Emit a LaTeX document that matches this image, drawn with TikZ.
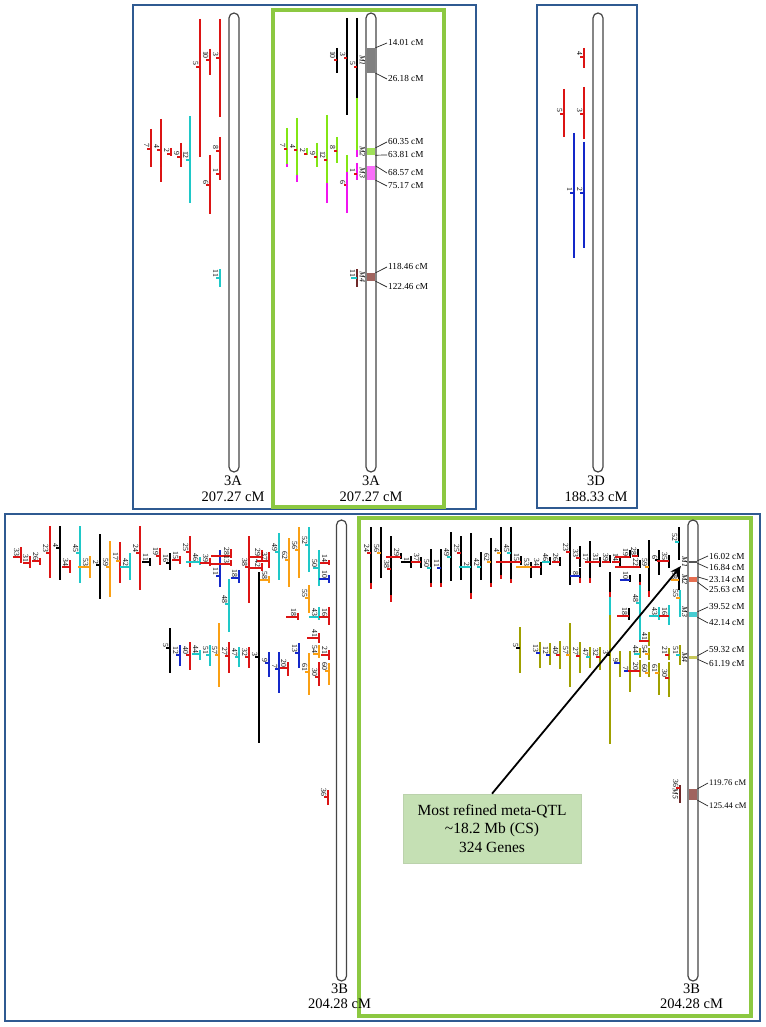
\documentclass[tikz,border=0pt]{standalone}
\usepackage{fontspec}
\setmainfont{Liberation Serif}
\usetikzlibrary{arrows.meta}
\definecolor{qred}{RGB}{220,20,20}
\definecolor{qcyan}{RGB}{30,200,200}
\definecolor{qblue}{RGB}{20,40,200}
\definecolor{qorange}{RGB}{250,160,20}
\definecolor{qgreen}{RGB}{130,230,20}
\definecolor{qmag}{RGB}{240,20,240}
\definecolor{qolive}{RGB}{160,160,0}
\definecolor{qbrown}{RGB}{110,40,40}
\definecolor{frameblue}{RGB}{47,90,145}
\definecolor{framegreen}{RGB}{140,200,65}
\definecolor{callfill}{RGB}{197,224,180}
\definecolor{boxgray}{RGB}{128,128,128}
\definecolor{boxdark}{RGB}{85,85,85}
\definecolor{boxgreen}{RGB}{160,225,90}
\definecolor{boxmag}{RGB}{250,110,250}
\definecolor{boxbrown}{RGB}{160,100,95}
\definecolor{boxsalmon}{RGB}{230,110,80}
\definecolor{boxcyan}{RGB}{70,205,210}
\definecolor{boxolive}{RGB}{200,200,90}
\definecolor{chromline}{RGB}{70,70,70}
\tikzset{
  qbar/.style={line width=1.9pt},
  qtick/.style={line width=1.2pt},
  qlab/.style={font=\fontsize{7.8}{7.8}\selectfont, inner sep=0.3pt, rotate=-90, anchor=north east},
  mlab/.style={font=\fontsize{7.8}{7.8}\selectfont\itshape, inner sep=0.3pt, rotate=-90, anchor=north},
  cmlab/.style={font=\fontsize{9.2}{9.2}\selectfont, inner sep=1pt, anchor=west},
  cmline/.style={line width=0.7pt, black!85},
  chrom/.style={draw=chromline, fill=white, line width=1.2pt, rounded corners=5pt, minimum width=10pt, inner sep=0pt},
  mbox/.style={minimum width=8.5pt, inner sep=0pt, draw=none},
  chl/.style={font=\fontsize{14.5}{16.3}\selectfont, align=center, inner sep=0pt},
  chlb/.style={font=\fontsize{14.5}{15.5}\selectfont, align=center, inner sep=0pt},
  frameb/.style={draw=frameblue, line width=2.2pt},
  frameg/.style={draw=framegreen, line width=3.2pt},
}
\newcommand\qtl[9]{%
  \draw[qbar,#5] (#2,#3) -- (#2,#4);
  \draw[qtick,#7] ({#2-#8},#6) -- (#2,#6);
  \node[qlab] (#1) at ({#2-1.3},{#6-0.6}) {#9};
}
\newcommand\qseg[4]{\draw[qbar,#4] (#1,#2) -- (#1,#3);}
\begin{document}
\begin{tikzpicture}[x=1pt,y=-1pt]
\useasboundingbox (0,0) rectangle (765,1027);
\fill[white] (0,0) rectangle (765,1027);
% frames
\draw[frameb] (133,5) rectangle (476,509);
\draw[frameg] (273,10) rectangle (444,507);
\draw[frameb] (537,5) rectangle (637,508);
\draw[frameb] (5,514) rectangle (760,1021);
\draw[frameg] (359,518) rectangle (751,1016);
% chromosomes
\node[chrom, minimum height=459pt] (tlchr) at (234,242.5) {};
\node[chrom, minimum height=459pt] (tmchr) at (371,242.5) {};
\node[chrom, minimum height=459pt] (tdchr) at (598,242.5) {};
\node[chrom, minimum height=461pt] (blchr) at (341.5,750.5) {};
\node[chrom, minimum height=461pt] (brchr) at (693,750.5) {};
\node[chl] (tlname) at (233,489) {3A\\207.27 cM};
\node[chl] (tmname) at (371,489) {3A\\207.27 cM};
\node[chl] (tdname) at (596,488.5) {3D\\188.33 cM};
\node[chlb] (blname) at (339.5,996.5) {3B\\204.28 cM};
\node[chlb] (brname) at (691.5,996.5) {3B\\204.28 cM};
% ---------- top-left 3A
\qtl{tl5}{200}{19}{157}{qred}{67}{qred}{4}{5}
\qtl{tl10}{210}{49}{75}{qred}{60}{qred}{4}{10}
\qtl{tl3}{220}{19}{117}{qred}{58}{qred}{4}{3}
\qtl{tl7}{151}{129}{167}{qred}{149}{qred}{4}{7}
\qtl{tl4}{161}{119}{182}{qred}{150}{qred}{4}{4}
\qtl{tl2}{171}{148}{156}{qred}{154}{qred}{4}{2}
\qtl{tl9}{181}{143}{167}{qred}{157}{qred}{4}{9}
\qtl{tl12}{190}{116}{203}{qcyan}{160}{qcyan}{4}{12}
\qtl{tl6}{210}{155}{214}{qred}{185}{qred}{4}{6}
\qtl{tl8}{220}{137}{163}{qred}{151}{qred}{4}{8}
\qtl{tl1}{220}{163}{180}{qred}{174}{qred}{4}{1}
\qtl{tl11}{220}{269}{287}{qcyan}{278}{qcyan}{4}{11}
% ---------- top-middle 3A
\qtl{tm10}{337}{48}{73}{black}{60}{qred}{3}{10}
\qtl{tm3}{347}{18}{115}{black}{58}{qred}{3}{3}
\qtl{tm5}{357}{18}{157}{black}{67}{qred}{3}{5}
\qseg{357}{98}{150}{qgreen}\qseg{357}{150}{157}{qmag}
\qtl{tm7}{287}{128}{167}{qgreen}{149}{qred}{3}{7}\qseg{287}{164}{167}{qmag}
\qtl{tm4}{297}{118}{182}{qgreen}{150}{qred}{3}{4}\qseg{297}{175}{182}{qmag}
\qtl{tm2}{307}{148}{155}{qgreen}{154}{qred}{3}{2}
\qtl{tm9}{317}{143}{167}{qgreen}{157}{qred}{3}{9}
\qtl{tm12}{327}{115}{203}{qgreen}{160}{qred}{3}{12}\qseg{327}{183}{203}{qmag}
\qtl{tm8}{337}{137}{163}{qgreen}{151}{qred}{3}{8}
\qtl{tm6}{347}{155}{213}{qgreen}{185}{qred}{3}{6}\qseg{347}{172}{213}{qmag}
\qtl{tm1}{357}{163}{180}{qmag}{174}{qred}{3}{1}
\qtl{tm11}{357}{269}{287}{qbrown}{278}{qcyan}{6}{11}
\node[mbox, fill=boxgray, minimum height=25pt] (tmM1) at (371,60.5) {};
\node[mbox, fill=boxgreen, minimum height=7pt] (tmM2) at (371,151.5) {};
\node[mbox, fill=boxmag, minimum height=14pt] (tmM3) at (371,173) {};
\node[mbox, fill=boxbrown, minimum height=8pt] (tmM4) at (371,277) {};
\node[mlab] (tmL1) at (365.5,60.5) {M1};
\node[mlab] (tmL2) at (365.5,151.5) {M2};
\node[mlab] (tmL3) at (365.5,173) {M3};
\node[mlab] (tmL4) at (365.5,277) {M4};
\node[cmlab] (tmc1) at (387,43) {14.01 cM};
\node[cmlab] (tmc2) at (387,79) {26.18 cM};
\node[cmlab] (tmc3) at (387,142) {60.35 cM};
\node[cmlab] (tmc4) at (387,155) {63.81 cM};
\node[cmlab] (tmc5) at (387,173) {68.57 cM};
\node[cmlab] (tmc6) at (387,186) {75.17 cM};
\node[cmlab] (tmc7) at (387,267) {118.46 cM};
\node[cmlab] (tmc8) at (387,287) {122.46 cM};
\draw[cmline] (tmM1.north east) -- (tmc1.west);
\draw[cmline] (tmM1.south east) -- (tmc2.west);
\draw[cmline] (tmM2.north east) -- (tmc3.west);
\draw[cmline] (tmM2.south east) -- (tmc4.west);
\draw[cmline] (tmM3.north east) -- (tmc5.west);
\draw[cmline] (tmM3.south east) -- (tmc6.west);
\draw[cmline] (tmM4.north east) -- (tmc7.west);
\draw[cmline] (tmM4.south east) -- (tmc8.west);
% ---------- 3D
\qtl{td4}{584}{48}{68}{qred}{57}{qred}{4}{4}
\qtl{td3}{584}{87}{139}{qred}{114}{qred}{4}{3}
\qtl{td5}{564}{89}{137}{qred}{114}{qred}{4}{5}
\qtl{td1}{574}{133}{258}{qblue}{193}{qblue}{4}{1}
\qtl{td2}{584}{142}{248}{qblue}{193}{qblue}{4}{2}
% ---------- bottom-left 3B
\qtl{bl33}{21}{547}{563}{qred}{557}{qred}{8}{33}
\qtl{bl31}{30}{556}{568}{qred}{563}{qred}{7}{31}
\qtl{bl26}{40}{558}{565}{qred}{561}{qred}{8}{26}
\qtl{bl23}{50}{526}{578}{qred}{553}{qred}{4}{23}
\qtl{bl4}{60}{526}{580}{black}{548}{black}{4}{4}
\qtl{bl34}{70}{560}{573}{qred}{567}{qred}{8}{34}
\qtl{bl45}{80}{526}{583}{qcyan}{553}{qcyan}{4}{45}
\qtl{bl53}{90}{556}{578}{qorange}{567}{qorange}{12}{53}
\qtl{bl2}{100}{534}{599}{black}{565}{black}{4}{2}
\qtl{bl59}{110}{541}{597}{qorange}{567}{qorange}{4}{59}
\qtl{bl17}{120}{542}{583}{qred}{561}{qorange}{4}{17}
\qtl{bl42a}{130}{553}{580}{qcyan}{567}{qcyan}{10}{42}
\qtl{bl24}{140}{526}{590}{qred}{553}{qred}{4}{24}
\qtl{bl11a}{150}{558}{566}{black}{562}{black}{8}{11}
\qtl{bl19}{160}{548}{565}{qred}{556}{qred}{4}{19}
\qtl{bl16a}{170}{553}{570}{black}{563}{black}{4}{16}
\qtl{bl15}{180}{556}{564}{qred}{560}{qred}{8}{15}
\qtl{bl25}{190}{536}{567}{qred}{552}{qred}{4}{25}
\qtl{bl46}{200}{557}{565}{qcyan}{562}{qcyan}{14}{46}
\qtl{bl39}{210}{558}{566}{qred}{563}{qred}{10}{39}
\qtl{bl11b}{220}{550}{587}{qblue}{576}{qblue}{4}{11}
\qtl{bl28}{231}{549}{558}{qred}{556}{qred}{20}{28}
\qtl{bl13a}{231}{560}{566}{qred}{564}{qred}{20}{13}
\qtl{bl18a}{239}{570}{583}{qblue}{578}{qblue}{8}{18}
\qtl{bl48}{229}{579}{632}{qcyan}{604}{qcyan}{4}{48}
\qtl{bl38}{249}{536}{603}{qred}{567}{qred}{4}{38}
\qtl{bl29}{262}{550}{561}{qred}{557}{qred}{12}{29}
\qtl{bl42b}{262}{563}{571}{qred}{568}{qred}{12}{42}
\qtl{bl37}{269}{552}{568}{qred}{561}{qred}{12}{37}
\qtl{bl58}{269}{576}{583}{qorange}{580}{qorange}{10}{58}
\qtl{bl3}{259}{572}{743}{black}{657}{black}{4}{3}
\qtl{bl49}{279}{533}{580}{qcyan}{552}{qcyan}{4}{49}
\qtl{bl62}{289}{538}{587}{qorange}{560}{qorange}{4}{62}
\qtl{bl56}{299}{527}{578}{qorange}{550}{qorange}{4}{56}
\qtl{bl52}{309}{527}{572}{qcyan}{545}{qcyan}{4}{52}
\qtl{bl50}{319}{550}{586}{qcyan}{568}{qcyan}{6}{50}
\qtl{bl14}{329}{560}{565}{qred}{563}{qred}{9}{14}
\qtl{bl10}{329}{575}{583}{qblue}{579}{qblue}{10}{10}
\qtl{bl55}{309}{585}{613}{qorange}{598}{qorange}{4}{55}
\qtl{bl18b}{298}{613}{620}{qred}{617}{qred}{12}{18}
\qtl{bl43}{319}{607}{620}{qcyan}{617}{qcyan}{10}{43}
\qtl{bl16b}{329}{607}{625}{qred}{617}{qred}{10}{16}
\qtl{bl5}{170}{628}{673}{black}{648}{black}{4}{5}
\qtl{bl12}{180}{645}{666}{qblue}{655}{qblue}{4}{12}
\qtl{bl40}{190}{642}{670}{qred}{655}{qred}{4}{40}
\qtl{bl44}{200}{650}{660}{qcyan}{654}{qcyan}{8}{44}
\qtl{bl51}{210}{645}{666}{qcyan}{655}{qcyan}{4}{51}
\qtl{bl57}{219}{623}{687}{qorange}{655}{qorange}{4}{57}
\qtl{bl27}{229}{642}{673}{qred}{656}{qred}{4}{27}
\qtl{bl47}{239}{647}{667}{qcyan}{657}{qcyan}{4}{47}
\qtl{bl32}{249}{647}{668}{qred}{657}{qred}{4}{32}
\qtl{bl9}{269}{652}{677}{qblue}{663}{qblue}{4}{9}
\qtl{bl7}{279}{652}{693}{qblue}{669}{qblue}{4}{7}
\qtl{bl20}{288}{662}{676}{qred}{668}{qred}{8}{20}
\qtl{bl13b}{299}{643}{668}{qblue}{653}{qblue}{4}{13}
\qtl{bl61}{309}{653}{695}{qorange}{672}{qorange}{4}{61}
\qtl{bl30}{319}{662}{686}{qred}{677}{qred}{4}{30}
\qtl{bl60}{329}{663}{685}{qorange}{671}{qorange}{4}{60}
\qtl{bl41}{319}{633}{643}{qred}{638}{qred}{12}{41}
\qtl{bl54}{319}{645}{658}{qorange}{654}{qorange}{6}{54}
\qtl{bl21}{329}{650}{660}{qred}{655}{qred}{8}{21}
\qtl{bl36}{328}{790}{805}{qred}{797}{qred}{4}{36}
% ---------- bottom-right 3B
\qtl{br24}{371}{527}{589}{black}{553}{qred}{4}{24}\qseg{371}{583}{589}{qred}
\qtl{br56}{381}{527}{578}{black}{553}{qorange}{4}{56}
\qtl{br38}{391}{536}{602}{black}{569}{qred}{4}{38}\qseg{391}{595}{602}{qred}
\qtl{br29}{401}{553}{559}{black}{557}{qred}{15}{29}
\qtl{br1}{411}{556}{568}{black}{562}{black}{10}{1}
\qtl{br37}{421}{557}{568}{black}{562}{qred}{10}{37}
\qtl{br50}{431}{549}{587}{black}{568}{qcyan}{4}{50}\qseg{431}{583}{587}{qred}
\qtl{br11}{441}{549}{587}{black}{568}{qblue}{4}{11}\qseg{441}{583}{587}{qred}
\qtl{br49}{451}{532}{581}{black}{557}{qcyan}{4}{49}
\qtl{br25}{461}{536}{580}{black}{553}{qred}{4}{25}
\qtl{br2}{471}{533}{599}{black}{567}{qcyan}{12}{2}\qseg{471}{593}{599}{qred}
\qtl{br42}{481}{552}{580}{black}{567}{qcyan}{4}{42}
\qtl{br62}{491}{538}{587}{black}{562}{qorange}{4}{62}\qseg{491}{583}{587}{qred}
\qtl{br4}{501}{527}{579}{black}{553}{qorange}{4}{4}\qseg{501}{575}{579}{qred}
\qtl{br45}{511}{527}{583}{black}{553}{qcyan}{4}{45}\qseg{511}{579}{583}{qred}
\qtl{br15}{521}{556}{565}{black}{562}{qred}{25}{15}
\qtl{br53}{531}{562}{578}{black}{567}{qorange}{15}{53}
\qtl{br34}{541}{562}{575}{black}{567}{qred}{10}{34}
\qtl{br46}{550}{557}{565}{black}{562}{qcyan}{8}{46}
\qtl{br26}{560}{557}{566}{black}{562}{qred}{8}{26}
\qtl{br23}{570}{527}{585}{black}{552}{qred}{4}{23}
\qtl{br33}{580}{546}{567}{black}{558}{qred}{4}{33}
\qtl{br8}{580}{568}{583}{black}{576}{qblue}{10}{8}\qseg{580}{578}{583}{qred}
\qtl{br17}{590}{541}{583}{black}{562}{qred}{4}{17}\qseg{590}{578}{583}{qred}
\qtl{br31}{600}{557}{567}{black}{562}{qred}{15}{31}
\qtl{br39}{610}{555}{563}{black}{562}{qred}{8}{39}
\qtl{br14}{620}{558}{566}{black}{562}{qred}{8}{14}
\qtl{br19}{630}{550}{558}{black}{557}{qred}{15}{19}
\qtl{br28}{638}{549}{557}{black}{556}{qred}{6}{28}
\qtl{br22}{640}{560}{568}{black}{567}{qred}{25}{22}
\qtl{br10}{630}{575}{582}{black}{580}{qblue}{10}{10}
\qtl{br59}{649}{540}{597}{black}{567}{qorange}{4}{59}\qseg{649}{591}{597}{qred}
\qtl{br6}{659}{550}{575}{black}{560}{black}{4}{6}
\qtl{br35}{669}{555}{568}{black}{561}{qred}{12}{35}
\qtl{br52}{679}{527}{560}{black}{542}{qcyan}{4}{52}
\qtl{br58}{679}{570}{590}{black}{580}{qorange}{8}{58}
\qtl{br55}{680}{590}{617}{qcyan}{598}{qorange}{4}{55}
\qtl{br48}{640}{574}{642}{qcyan}{603}{qcyan}{4}{48}\qseg{640}{574}{582}{black}\qseg{640}{582}{585}{qred}
\qtl{br18}{629}{608}{620}{black}{616}{qred}{12}{18}
\qtl{br43}{659}{607}{620}{qcyan}{616}{qcyan}{10}{43}
\qtl{br16}{669}{605}{625}{qcyan}{616}{qred}{10}{16}
\qtl{br3}{610}{572}{744}{qolive}{655}{black}{4}{3}\qseg{610}{572}{592}{black}\qseg{610}{592}{597}{qred}\qseg{610}{597}{615}{qcyan}
\qtl{br5}{520}{627}{673}{qolive}{648}{black}{4}{5}
\qtl{br13}{540}{642}{668}{qolive}{653}{qblue}{4}{13}
\qtl{br12}{550}{643}{665}{qolive}{655}{qblue}{4}{12}
\qtl{br40}{560}{641}{669}{qolive}{655}{qred}{4}{40}
\qtl{br57}{570}{623}{687}{qolive}{655}{qorange}{4}{57}
\qtl{br27}{580}{642}{673}{qolive}{656}{qred}{4}{27}
\qtl{br47}{590}{647}{668}{qolive}{657}{qcyan}{4}{47}
\qtl{br32}{600}{647}{670}{qolive}{657}{qred}{4}{32}
\qtl{br9}{620}{651}{677}{qolive}{663}{qblue}{6}{9}
\qtl{br7}{630}{651}{692}{qolive}{671}{qblue}{6}{7}
\qtl{br20}{640}{660}{677}{qolive}{671}{qred}{12}{20}
\qtl{br44}{640}{648}{658}{qolive}{654}{qcyan}{6}{44}
\qtl{br41}{649}{632}{646}{qolive}{641}{qred}{10}{41}
\qtl{br54}{649}{648}{660}{qolive}{654}{qorange}{4}{54}
\qtl{br60}{649}{662}{677}{qolive}{673}{qorange}{4}{60}
\qtl{br61}{659}{663}{695}{qolive}{673}{qorange}{4}{61}
\qtl{br21}{669}{648}{660}{qolive}{655}{qred}{4}{21}
\qtl{br30}{669}{662}{697}{qolive}{678}{qred}{4}{30}
\qtl{br51}{680}{645}{665}{qolive}{655}{qcyan}{4}{51}
\qtl{br36}{680}{785}{803}{qbrown}{788}{qred}{4}{36}
\node[mbox, fill=boxdark, minimum height=2.2pt] (brM1) at (693,562) {};
\node[mbox, fill=boxsalmon, minimum height=5pt] (brM2) at (693,579.5) {};
\node[mbox, fill=boxcyan, minimum height=5pt] (brM3) at (693,614.5) {};
\node[mbox, fill=boxolive, minimum height=3pt] (brM4) at (693,657.5) {};
\node[mbox, fill=boxbrown, minimum height=11pt] (brM5) at (693,794.5) {};
\node[mlab] (brL1) at (687.8,562) {M1};
\node[mlab] (brL2) at (687.8,579.5) {M2};
\node[mlab] (brL3) at (687.8,612) {M3};
\node[mlab] (brL4) at (687.8,657.5) {M4};
\node[mlab] (brL5) at (678.5,794) {M5};
\node[cmlab] (brc1) at (708,556) {16.02 cM};
\node[cmlab] (brc2) at (708,568) {16.84 cM};
\node[cmlab] (brc3) at (708,580) {23.14 cM};
\node[cmlab] (brc4) at (708,590) {25.63 cM};
\node[cmlab] (brc5) at (708,607) {39.52 cM};
\node[cmlab] (brc6) at (708,623) {42.14 cM};
\node[cmlab] (brc7) at (708,650) {59.32 cM};
\node[cmlab] (brc8) at (708,664) {61.19 cM};
\node[cmlab, font=\fontsize{8.6}{8.6}\selectfont] (brc9) at (708,783) {119.76 cM};
\node[cmlab, font=\fontsize{8.6}{8.6}\selectfont] (brc10) at (708,806) {125.44 cM};
\draw[cmline] (brM1.north east) -- (brc1.west);
\draw[cmline] (brM1.south east) -- (brc2.west);
\draw[cmline] (brM2.north east) -- (brc3.west);
\draw[cmline] (brM2.south east) -- (brc4.west);
\draw[cmline] (brM3.north east) -- (brc5.west);
\draw[cmline] (brM3.south east) -- (brc6.west);
\draw[cmline] (brM4.north east) -- (brc7.west);
\draw[cmline] (brM4.south east) -- (brc8.west);
\draw[cmline] (brM5.north east) -- (brc9.west);
\draw[cmline] (brM5.south east) -- (brc10.west);
% callout
\node[fill=callfill, draw=callfill!85!gray, line width=0.6pt, minimum width=178pt, minimum height=69pt, align=center, inner sep=0pt, font=\fontsize{15.5}{18.5}\selectfont] (callout) at (492,828.5) {Most refined meta-QTL\\\textasciitilde18.2 Mb (CS)\\324 Genes};
\coordinate (arrowtip) at (681,566);
\draw[line width=1.8pt, -{Stealth[length=11pt,width=9pt]}] (callout.north) -- (arrowtip);
\end{tikzpicture}
\end{document}
